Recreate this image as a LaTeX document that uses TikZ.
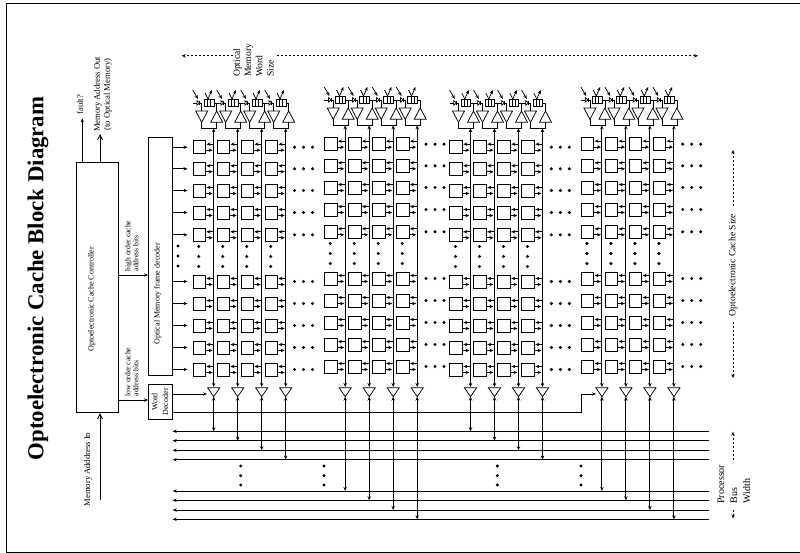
\documentclass[tikz,border=0pt]{standalone}
\usepackage{fontspec}
\setmainfont{Liberation Serif}
\usetikzlibrary{arrows.meta,calc}
\newcommand{\txtsize}[2]{\fontsize{#1}{#2}\selectfont}
\tikzset{
  cellbox/.style={draw,minimum width=12.5pt,minimum height=13pt,inner sep=0pt,anchor=west},
  ctrlbox/.style={draw,inner sep=0pt},
  modbox/.style={draw,minimum width=9.7pt,minimum height=7.4pt,inner sep=0pt,line width=0.8pt},
  wire/.style={line width=0.75pt},
  sizeline/.style={line width=0.6pt,dash pattern=on 2pt off 2pt},
  label/.style={rotate=90,inner sep=0pt,align=center},
  dotmark/.style={circle,fill,inner sep=0pt,minimum size=3.4pt}
}
\begin{document}
\begin{tikzpicture}[x=1pt,y=-1pt,line width=0.85pt,>={Stealth[length=4pt,width=3.4pt]}]
  \clip (0,0) rectangle (800,553);
  \useasboundingbox (0,0) rectangle (800,553);
  \draw (6.5,3) rectangle (810,552);
  % title
  \node[label,font=\bfseries\txtsize{22.8}{27}] (title) at (38,278.5) {Optoelectronic Cache Block Diagram};
  % controller and decoders
  \node[ctrlbox,minimum width=42.3pt,minimum height=250.4pt] (ctrl) at (97.2,287.5) {};
  \node[ctrlbox,minimum width=24pt,minimum height=237.3pt] (frame) at (160,256.3) {};
  \node[ctrlbox,minimum width=24pt,minimum height=35pt] (word) at (160,401.8) {};
  \node[label,font=\txtsize{8}{10}] (ctrllabel) at (91.7,299.5) {Optoelectronic Cache Controller};
  \node[label,font=\txtsize{8}{10}] (framelabel) at (157.7,293.7) {Optical Memory frame decoder};
  \node[label,font=\txtsize{8}{10.7}] (wordlabel) at (160,401.8) {Word\\Decoder};
  % controller connections
  \coordinate (faultend) at (82.3,118.3);
  \coordinate (outend) at (100,134);
  \coordinate (inend) at (100,500);
  \draw[->] (ctrl.north -| faultend) -- (faultend);
  \draw[-{Straight Barb[length=5pt,width=5pt]}] (ctrl.north -| outend) -- (outend);
  \draw[-{Straight Barb[length=5pt,width=5pt]}] (inend) -- (ctrl.south -| inend);
  \coordinate (hi) at (148,275);
  \coordinate (lo) at (148,400);
  \draw[->] (ctrl.east |- hi) -- (hi);
  \draw[->] (ctrl.east |- lo) -- (lo);
  \node[label,font=\txtsize{8.6}{10},anchor=west] (faultlabel) at (80,115) {fault?};
  \node[label,font=\txtsize{8.6}{10}] (outlabel) at (102.7,94.5) {Memory Address Out\\(to Optical Memory)};
  \node[label,font=\txtsize{8.6}{10},anchor=west] (inlabel) at (88,506.7) {Memory Adddress In};
  \node[label,font=\txtsize{7.6}{8},anchor=west,align=left] (hilabel) at (131.7,271.7) {high order cache\\address bits};
  \node[label,font=\txtsize{7.6}{8},anchor=west,align=left] (lolabel) at (131.7,396.7) {low order cache\\address bits};
  % processor bus
  \foreach \k/\y in {1/431.3,2/440.7,3/450.3,4/459.7,5/491,6/500.3,7/510,8/519.3} {
    \coordinate (busl\k) at (172.7,\y);
    \coordinate (busr\k) at (709.3,\y);
    \draw[->] (busr\k) -- (busl\k);
  }
  \foreach \x in {240.7,324,497.3,581} {
    \foreach \y in {466,475.7,485}
      \node[dotmark] at (\x,\y) {};
  }
  % memory groups
  \foreach \gx/\gy/\g/\base in {192.5/0/1/0,324/-3/2/4,449.3/0/3/0,580.7/-3/4/4} {
    \foreach \c [evaluate=\c as \cx using \gx+24*\c, evaluate=\c as \k using int(\c+1+\base)] in {0,1,2,3} {
      % cells and their bus
      \coordinate (bus\g\c) at (\cx+21.2,387);
      \coordinate (bustop\g\c) at (\cx+21.2,128.3+\gy);
      \draw[<->] (bustop\g\c) -- (bus\g\c);
      \foreach \r/\y in {1/147.2,2/168.8,3/190.5,4/212.5,5/234.8,6/281.5,7/303.5,8/325.5,9/347.5,10/369.5} {
        \node[cellbox] (cell\g\c\r) at (\cx,\y+\gy) {};
        \draw[wire,->] ($(bus\g\c |- cell\g\c\r.east)+(0,-3)$) -- ($(cell\g\c\r.east)+(0.6,-3)$);
        \draw[wire,->] ($(cell\g\c\r.east)+(0,3)$) -- ($(bus\g\c |- cell\g\c\r.east)+(-1,3)$);
      }
      \foreach \y in {246.5,256.5,266.5}
        \node[dotmark] at (\cx+6.2,\y+\gy) {};
      % bottom amplifier
      \coordinate (ampin\g\c) at (\cx+21.2,387.7);
      \coordinate (ampout\g\c) at (\cx+21.2,396.7);
      \draw[wire] (\cx+15.1,387.7) -- (\cx+27.3,387.7) -- (ampout\g\c) -- cycle;
      \draw[<->] (ampout\g\c) -- (ampout\g\c |- busl\k);
      % top amplifiers, detector and modulator
      \coordinate (dnapex\g\c) at (\cx+9.2,122.3+\gy);
      \coordinate (upapex\g\c) at (\cx+24.2,111+\gy);
      \draw[wire] (\cx+3.2,111+\gy) -- (\cx+15.2,111+\gy) -- (dnapex\g\c) -- cycle;
      \draw[wire] (\cx+18.2,122.3+\gy) -- (\cx+30.2,122.3+\gy) -- (upapex\g\c) -- cycle;
      \draw[wire] (dnapex\g\c) -- (\cx+9.2,128.3+\gy) -- (\cx+24.2,128.3+\gy) -- (\cx+24.2,122.3+\gy);
      \node[modbox] (mod\g\c) at (\cx+16.65,102.9+\gy) {};
      \draw[line width=1pt] ($(mod\g\c.north)+(-1.6,0)$) -- ($(mod\g\c.south)+(-1.6,0)$);
      \draw[line width=1pt] ($(mod\g\c.north)+(1.6,0)$) -- ($(mod\g\c.south)+(1.6,0)$);
      \draw[wire] (mod\g\c.east) -| (upapex\g\c);
      \draw[wire] (\cx+0.2,102.9+\gy) -- (\cx+4.5,102.9+\gy);
      \draw[wire,fill=white] (\cx+4.5,100.7+\gy) -- (\cx+4.5,105.1+\gy) -- (\cx+7.3,102.9+\gy) -- cycle;
      \draw[wire] (\cx+7.3,100.7+\gy) -- (\cx+7.3,105.1+\gy);
      \draw[wire] (\cx+7.3,102.9+\gy) -- (\cx+9.2,102.9+\gy) -- (\cx+9.2,111+\gy);
      \draw[wire,->] (\cx+0.2,90+\gy) -- (\cx+5.5,99+\gy);
      \draw[wire] (\cx+12.5,93+\gy) -- (\cx+15.5,99+\gy);
      \draw[wire,->] (\cx+15.5,99+\gy) -- (\cx+19.5,90+\gy);
    }
    % dots to the right of the group
    \foreach \r/\y in {1/147.2,2/168.8,3/190.5,4/212.5,5/234.8,6/281.5,7/303.5,8/325.5,9/347.5,10/369.5} {
      \foreach \x in {102,111,120}
        \node[dotmark] at (\gx+\x,\y+\gy) {};
    }
  }
  % frame decoder outputs
  \foreach \r in {1,2,3,4,5,6,7,8,9,10}
    \draw[->] (frame.east |- cell10\r.west) -- ($(cell10\r.west)+(-5,0)$);
  \foreach \y in {246,256,266}
    \node[dotmark] at (178,\y) {};
  % word decoder outputs
  \coordinate (selone) at (207,394);
  \coordinate (seltwo) at (596,394);
  \draw[->] (word.east |- selone) -- (selone);
  \draw[->] (word.east |- 0,412.7) -- (581,412.7) -- (581,394) -- (seltwo);
  % size markers
  \coordinate (wordl) at (181.7,55.8);
  \coordinate (wordr) at (698,55.8);
  \draw[sizeline,->] (233,55.8) -- (wordl);
  \draw[sizeline,->] (277,55.8) -- (wordr);
  \node[label,font=\txtsize{9.6}{11.3},anchor=west,align=left] (wordsize) at (253.5,77.3) {Optical\\Memory\\Word\\Size};
  \draw[sizeline,->] (733,206) -- (733,150);
  \draw[sizeline,->] (733,322) -- (733,378);
  \node[label,font=\txtsize{9.6}{11.3}] (cachesize) at (733,265) {Optoelectronic Cache Size};
  \draw[sizeline,->] (733,460) -- (733,431.7);
  \draw[sizeline,->] (733,510) -- (733,518.5);
  \node[label,font=\txtsize{10}{13},anchor=west,align=left] (buswidth) at (734,504) {Processor\\Bus\\Width};
\end{tikzpicture}
\end{document}
